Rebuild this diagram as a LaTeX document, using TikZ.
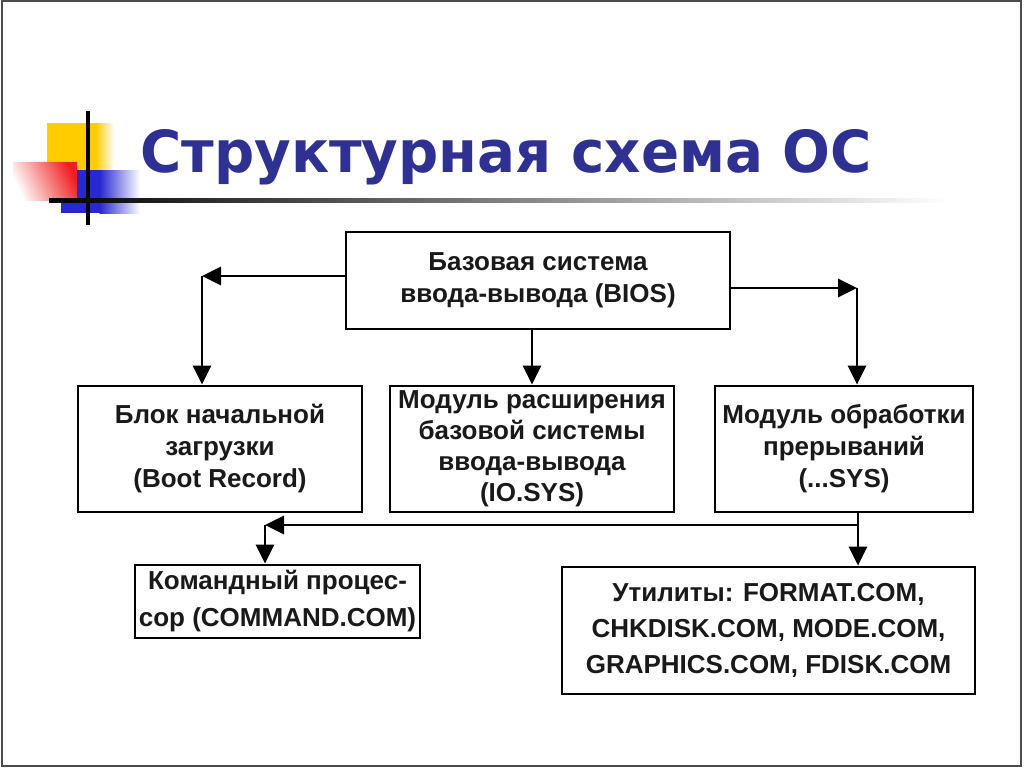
\documentclass[tikz,border=0pt]{standalone}
\usepackage{fontspec}
\setmainfont{Liberation Sans}
\newfontfamily\titlefont[FakeStretch=0.97]{DejaVu Sans}
\usetikzlibrary{arrows.meta}
\definecolor{titleblue}{RGB}{46,49,146}
\definecolor{txtgray}{RGB}{25,25,25}
\definecolor{decoyellow}{RGB}{255,204,0}
\definecolor{decored}{RGB}{240,30,30}
\definecolor{decoblue}{RGB}{40,40,210}
\tikzset{
  box/.style={draw=black, line width=2.8pt, align=center, text=txtgray,
    font=\bfseries\fontsize{26}{32}\selectfont, inner sep=0pt},
  arr/.style={line width=2.8pt, -{Triangle[length=19pt,width=18pt]}},
  ln/.style={line width=2.8pt}
}
\begin{document}
\begin{tikzpicture}[x=1pt,y=-1pt]
\useasboundingbox (0,0) rectangle (1024,768);
\fill[white] (0,0) rectangle (1024,768);
\draw[black!70, line width=2pt] (1.5,1.5) rectangle (1021,766);
% decoration
\fill[decoyellow] (47,123) rectangle (96,172);
\shade[left color=decoyellow, right color=white] (95.5,123) rectangle (114,172);
\fill[decoblue] (61,170) rectangle (100,213);
\shade[left color=decoblue, right color=white] (99.5,170) rectangle (140,213);
\shade[top color=decored, bottom color=white, shading angle=-65] (13,162) rectangle (77,200);
\fill[black] (86,111) rectangle (89.5,225);
\shade[left color=black, right color=white] (49,198.5) rectangle (950,202);
% title
\node[anchor=base west, inner sep=0pt, text=titleblue, font=\titlefont\bfseries\fontsize{58}{60}\selectfont] (title) at (140,172) {Структурная схема ОС};
% boxes
\node[box, minimum width=384pt, minimum height=97pt] (bios) at (538,280.5) {Базовая система\\ввода-вывода (BIOS)};
\node[box, minimum width=284pt, minimum height=126pt] (boot) at (220,449) {Блок начальной\\загрузки\\(Boot Record)};
\node[box, minimum width=284pt, minimum height=126pt, font=\bfseries\fontsize{26}{31}\selectfont] (iosys) at (532,449) {Модуль расширения\\базовой системы\\ввода-вывода\\(IO.SYS)};
\node[box, minimum width=258pt, minimum height=126pt] (intr) at (844,449) {Модуль обработки\\прерываний\\(...SYS)};
\node[box, minimum width=285pt, minimum height=73pt, font=\bfseries\fontsize{26}{37}\selectfont] (cmd) at (277.5,601.5) {Командный процес-\\сор (COMMAND.COM)};
\node[box, minimum width=413pt, minimum height=127pt, font=\bfseries\fontsize{26}{36}\selectfont] (util) at (768.5,630.5) {Утилиты: FORMAT.COM,\\CHKDISK.COM, MODE.COM,\\GRAPHICS.COM, FDISK.COM};
% connectors
\coordinate (cL) at (202,276);
\coordinate (cR) at (857,288);
\coordinate (cB) at (858,525);
\coordinate (cC) at (265,525);
\draw[arr] (bios.west |- cL) -- (cL);
\draw[arr] (cL) -- (cL |- boot.north);
\draw[arr] (bios.east |- cR) -- (cR);
\draw[arr] (cR) -- (cR |- intr.north);
\draw[arr] (iosys.north |- bios.south) -- (iosys.north);
\draw[ln] (cB |- intr.south) -- (cB);
\draw[arr] (cB) -- (cC);
\draw[arr] (cC) -- (cC |- cmd.north);
\draw[arr] (cB) -- (cB |- util.north);
\end{tikzpicture}
\end{document}
